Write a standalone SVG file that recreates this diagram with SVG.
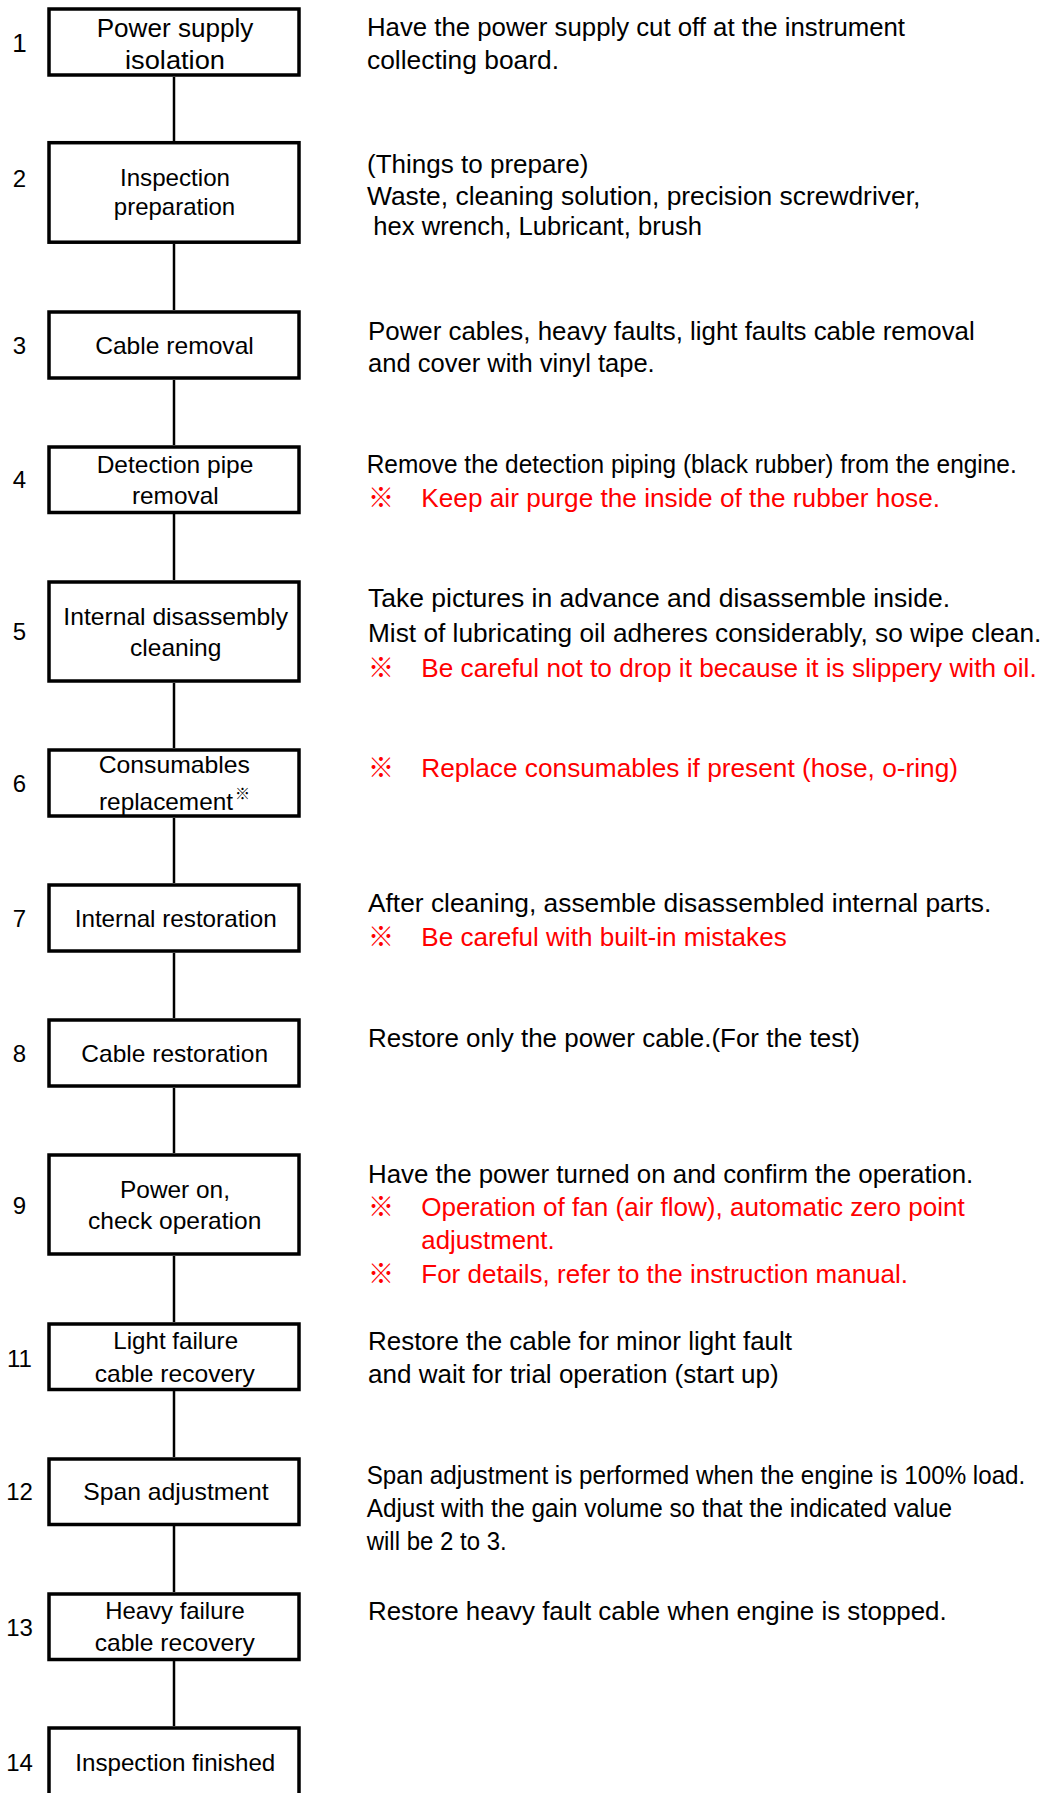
<svg xmlns="http://www.w3.org/2000/svg" width="1045" height="1793" viewBox="0 0 1045 1793">
  <style>
    text { font-family: "Liberation Sans", Arial, "Noto Sans CJK JP", sans-serif; fill: #000; }
    .box { fill: #fff; stroke: #000; stroke-width: 3.5; }
    .link { stroke: #000; stroke-width: 2.5; fill: none; }
    .lbl { font-size: 24px; text-anchor: middle; }
    .num { font-size: 24px; text-anchor: middle; }
    .desc { font-size: 26px; }
    .red { fill: #ff0000; }
    .mark { font-family: "Noto Sans CJK JP", "Noto Sans CJK SC", sans-serif; font-size: 26px; fill: #ff0000; }
    .sup { font-family: "Noto Sans CJK JP", sans-serif; font-size: 15px; }
  </style>
  <rect width="1045" height="1793" fill="#fff"/>

  <!-- vertical connectors between consecutive steps -->
  <g id="connectors">
    <line class="link" x1="174" y1="77" x2="174" y2="141"/>
    <line class="link" x1="174" y1="244" x2="174" y2="310"/>
    <line class="link" x1="174" y1="380" x2="174" y2="445"/>
    <line class="link" x1="174" y1="514" x2="174" y2="580"/>
    <line class="link" x1="174" y1="683" x2="174" y2="748"/>
    <line class="link" x1="174" y1="818" x2="174" y2="883"/>
    <line class="link" x1="174" y1="953" x2="174" y2="1018"/>
    <line class="link" x1="174" y1="1088" x2="174" y2="1153"/>
    <line class="link" x1="174" y1="1256" x2="174" y2="1322"/>
    <line class="link" x1="174" y1="1391" x2="174" y2="1457"/>
    <line class="link" x1="174" y1="1526" x2="174" y2="1592"/>
    <line class="link" x1="174" y1="1661" x2="174" y2="1726"/>
  </g>

  <g id="step1">
    <rect class="box" x="49" y="9" width="250" height="66"/>
    <text class="num" x="19.5" y="52" style="font-size:26px">1</text>
    <text class="lbl" x="175" y="37" style="font-size:26px" textLength="156.7" lengthAdjust="spacingAndGlyphs">Power supply</text>
    <text class="lbl" x="175" y="69" style="font-size:26px" textLength="100" lengthAdjust="spacingAndGlyphs">isolation</text>
    <text class="desc" x="367" y="36" textLength="538" lengthAdjust="spacingAndGlyphs">Have the power supply cut off at the instrument</text>
    <text class="desc" x="367" y="68.5" textLength="192" lengthAdjust="spacingAndGlyphs">collecting board.</text>
  </g>

  <g id="step2">
    <rect class="box" x="49" y="142.7" width="250" height="99.5"/>
    <text class="num" x="19.5" y="186.5">2</text>
    <text class="lbl" x="175" y="186" textLength="110" lengthAdjust="spacingAndGlyphs">Inspection</text>
    <text class="lbl" x="174.5" y="215" textLength="121.3" lengthAdjust="spacingAndGlyphs">preparation</text>
    <text class="desc" x="367" y="173" textLength="221.3" lengthAdjust="spacingAndGlyphs">(Things to prepare)</text>
    <text class="desc" x="367" y="204.5" textLength="553.3" lengthAdjust="spacingAndGlyphs">Waste, cleaning solution, precision screwdriver,</text>
    <text class="desc" x="373.3" y="234.5" textLength="328.7" lengthAdjust="spacingAndGlyphs">hex wrench, Lubricant, brush</text>
  </g>

  <g id="step3">
    <rect class="box" x="49" y="312" width="250" height="66"/>
    <text class="num" x="19.5" y="354">3</text>
    <text class="lbl" x="174.5" y="354" textLength="158.7" lengthAdjust="spacingAndGlyphs">Cable removal</text>
    <text class="desc" x="368" y="339.5" textLength="606.7" lengthAdjust="spacingAndGlyphs">Power cables, heavy faults, light faults cable removal</text>
    <text class="desc" x="368" y="372" textLength="286.7" lengthAdjust="spacingAndGlyphs">and cover with vinyl tape.</text>
  </g>

  <g id="step4">
    <rect class="box" x="49" y="447" width="250" height="65.5"/>
    <text class="num" x="19.5" y="488">4</text>
    <text class="lbl" x="175" y="472.5" textLength="156.7" lengthAdjust="spacingAndGlyphs">Detection pipe</text>
    <text class="lbl" x="175.3" y="504" textLength="86.7" lengthAdjust="spacingAndGlyphs">removal</text>
    <text class="desc" x="366.7" y="472.5" style="font-size:25px" textLength="650" lengthAdjust="spacingAndGlyphs">Remove the detection piping (black rubber) from the engine.</text>
    <text class="mark" x="368" y="506.5">※</text>
    <text class="desc red" x="421.3" y="506.5" textLength="518.7" lengthAdjust="spacingAndGlyphs">Keep air purge the inside of the rubber hose.</text>
  </g>

  <g id="step5">
    <rect class="box" x="49" y="582" width="250" height="99"/>
    <text class="num" x="19.5" y="640">5</text>
    <text class="lbl" x="175.7" y="625.3" textLength="224.7" lengthAdjust="spacingAndGlyphs">Internal disassembly</text>
    <text class="lbl" x="175.7" y="655.5" textLength="91.3" lengthAdjust="spacingAndGlyphs">cleaning</text>
    <text class="desc" x="368" y="606.7" textLength="582" lengthAdjust="spacingAndGlyphs">Take pictures in advance and disassemble inside.</text>
    <text class="desc" x="368" y="641.7" textLength="673.3" lengthAdjust="spacingAndGlyphs">Mist of lubricating oil adheres considerably, so wipe clean.</text>
    <text class="mark" x="368" y="676.7">※</text>
    <text class="desc red" x="421.3" y="676.7" textLength="615.4" lengthAdjust="spacingAndGlyphs">Be careful not to drop it because it is slippery with oil.</text>
  </g>

  <g id="step6">
    <rect class="box" x="49" y="750" width="250" height="66"/>
    <text class="num" x="19.5" y="792">6</text>
    <text class="lbl" x="174.3" y="773.3" textLength="151.3" lengthAdjust="spacingAndGlyphs">Consumables</text>
    <text class="lbl" x="166" y="810" textLength="134" lengthAdjust="spacingAndGlyphs">replacement</text>
    <text class="sup" x="235" y="799">※</text>
    <text class="mark" x="368" y="776.7">※</text>
    <text class="desc red" x="421.3" y="776.7" textLength="536.7" lengthAdjust="spacingAndGlyphs">Replace consumables if present (hose, o-ring)</text>
  </g>

  <g id="step7">
    <rect class="box" x="49" y="885" width="250" height="66"/>
    <text class="num" x="19.5" y="927">7</text>
    <text class="lbl" x="175.7" y="927.3" textLength="202" lengthAdjust="spacingAndGlyphs">Internal restoration</text>
    <text class="desc" x="368" y="911.7" textLength="623.3" lengthAdjust="spacingAndGlyphs">After cleaning, assemble disassembled internal parts.</text>
    <text class="mark" x="368" y="946">※</text>
    <text class="desc red" x="421.3" y="946" textLength="365.4" lengthAdjust="spacingAndGlyphs">Be careful with built-in mistakes</text>
  </g>

  <g id="step8">
    <rect class="box" x="49" y="1020" width="250" height="66"/>
    <text class="num" x="19.5" y="1061.7">8</text>
    <text class="lbl" x="174.7" y="1061.7" textLength="186.7" lengthAdjust="spacingAndGlyphs">Cable restoration</text>
    <text class="desc" x="368" y="1046.7" textLength="492" lengthAdjust="spacingAndGlyphs">Restore only the power cable.(For the test)</text>
  </g>

  <g id="step9">
    <rect class="box" x="49" y="1155" width="250" height="99"/>
    <text class="num" x="19.5" y="1214">9</text>
    <text class="lbl" x="175" y="1198.3" textLength="110" lengthAdjust="spacingAndGlyphs">Power on,</text>
    <text class="lbl" x="174.7" y="1229.3" textLength="173.3" lengthAdjust="spacingAndGlyphs">check operation</text>
    <text class="desc" x="368" y="1182.7" textLength="605.3" lengthAdjust="spacingAndGlyphs">Have the power turned on and confirm the operation.</text>
    <text class="mark" x="368" y="1216">※</text>
    <text class="desc red" x="421.3" y="1216" textLength="543.4" lengthAdjust="spacingAndGlyphs">Operation of fan (air flow), automatic zero point</text>
    <text class="desc red" x="421.3" y="1249.3" textLength="133.4" lengthAdjust="spacingAndGlyphs">adjustment.</text>
    <text class="mark" x="368" y="1283.3">※</text>
    <text class="desc red" x="421.3" y="1283.3" textLength="486.7" lengthAdjust="spacingAndGlyphs">For details, refer to the instruction manual.</text>
  </g>

  <g id="step11">
    <rect class="box" x="49" y="1324" width="250" height="65.5"/>
    <text class="num" x="19.5" y="1366.7">11</text>
    <text class="lbl" x="175.7" y="1349.3" textLength="124.7" lengthAdjust="spacingAndGlyphs">Light failure</text>
    <text class="lbl" x="174.7" y="1381.7" textLength="160" lengthAdjust="spacingAndGlyphs">cable recovery</text>
    <text class="desc" x="368" y="1350" textLength="424" lengthAdjust="spacingAndGlyphs">Restore the cable for minor light fault</text>
    <text class="desc" x="368" y="1383.3" textLength="410.7" lengthAdjust="spacingAndGlyphs">and wait for trial operation (start up)</text>
  </g>

  <g id="step12">
    <rect class="box" x="49" y="1459" width="250" height="65.5"/>
    <text class="num" x="19.5" y="1500">12</text>
    <text class="lbl" x="176" y="1500" textLength="185.4" lengthAdjust="spacingAndGlyphs">Span adjustment</text>
    <text class="desc" x="366.7" y="1484.3" style="font-size:25px" textLength="658.6" lengthAdjust="spacingAndGlyphs">Span adjustment is performed when the engine is 100% load.</text>
    <text class="desc" x="366.7" y="1516.7" style="font-size:25px" textLength="585.3" lengthAdjust="spacingAndGlyphs">Adjust with the gain volume so that the indicated value</text>
    <text class="desc" x="366.7" y="1550" style="font-size:25px" textLength="140" lengthAdjust="spacingAndGlyphs">will be 2 to 3.</text>
  </g>

  <g id="step13">
    <rect class="box" x="49" y="1594" width="250" height="65.5"/>
    <text class="num" x="19.5" y="1636">13</text>
    <text class="lbl" x="175" y="1619" textLength="139.4" lengthAdjust="spacingAndGlyphs">Heavy failure</text>
    <text class="lbl" x="174.7" y="1650.5" textLength="160" lengthAdjust="spacingAndGlyphs">cable recovery</text>
    <text class="desc" x="368" y="1620" textLength="578.7" lengthAdjust="spacingAndGlyphs">Restore heavy fault cable when engine is stopped.</text>
  </g>

  <g id="step14">
    <rect class="box" x="49" y="1728" width="250" height="100"/>
    <text class="num" x="19.5" y="1770.5">14</text>
    <text class="lbl" x="175.3" y="1770.5" textLength="200" lengthAdjust="spacingAndGlyphs">Inspection finished</text>
  </g>
</svg>
